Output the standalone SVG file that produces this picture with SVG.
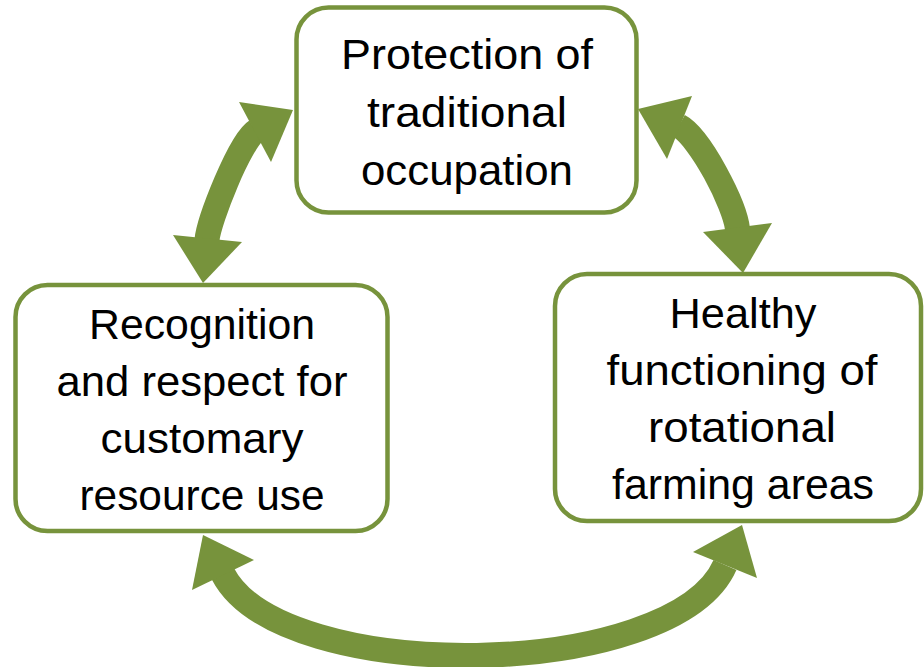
<svg xmlns="http://www.w3.org/2000/svg" width="924" height="667" viewBox="0 0 924 667">
<style>
.box{fill:#ffffff;stroke:#77933C;stroke-width:4.5}
.lbl{font-family:"Liberation Sans",Arial,sans-serif;font-size:43px;fill:#000000;text-anchor:middle}
.shaft{fill:none;stroke:#77933C;stroke-width:25}
.head{fill:#77933C;stroke:none}
</style>
<rect width="924" height="667" fill="#ffffff"/>
<g id="connectors">
  <path class="shaft" d="M256,131 C240,141 209,220 207,240"/>
  <polygon class="head" points="293,110 239,102 271,162"/>
  <polygon class="head" points="203,283 173,235 242,242"/>
  <path class="shaft" d="M679,126 C700,137 735,205 737.5,229"/>
  <polygon class="head" points="638,109 692,96 667,159"/>
  <polygon class="head" points="743,273 703,232 772,223"/>
  <path class="shaft" d="M223,574 C282,687 674,681 725,565"/>
  <polygon class="head" points="203,535 254,560 192,590"/>
  <polygon class="head" points="742,525 693,552 757,578"/>
</g>
<g id="node-protection">
  <rect class="box" x="296.5" y="7.5" width="340" height="205" rx="32"/>
  <text class="lbl" x="467" y="69" textLength="252" lengthAdjust="spacingAndGlyphs">Protection of</text>
  <text class="lbl" x="467" y="127" textLength="200" lengthAdjust="spacingAndGlyphs">traditional</text>
  <text class="lbl" x="467" y="185" textLength="212" lengthAdjust="spacingAndGlyphs">occupation</text>
</g>
<g id="node-recognition">
  <rect class="box" x="15.5" y="285" width="372" height="246" rx="32"/>
  <text class="lbl" x="202" y="339" textLength="226" lengthAdjust="spacingAndGlyphs">Recognition</text>
  <text class="lbl" x="202" y="396" textLength="291" lengthAdjust="spacingAndGlyphs">and respect for</text>
  <text class="lbl" x="202" y="453" textLength="203" lengthAdjust="spacingAndGlyphs">customary</text>
  <text class="lbl" x="202" y="510" textLength="245" lengthAdjust="spacingAndGlyphs">resource use</text>
</g>
<g id="node-healthy">
  <rect class="box" x="555" y="274" width="366" height="247" rx="32"/>
  <text class="lbl" x="743" y="328" textLength="147" lengthAdjust="spacingAndGlyphs">Healthy</text>
  <text class="lbl" x="742" y="385" textLength="271" lengthAdjust="spacingAndGlyphs">functioning of</text>
  <text class="lbl" x="742" y="442" textLength="188" lengthAdjust="spacingAndGlyphs">rotational</text>
  <text class="lbl" x="743" y="499" textLength="262" lengthAdjust="spacingAndGlyphs">farming areas</text>
</g>
</svg>
